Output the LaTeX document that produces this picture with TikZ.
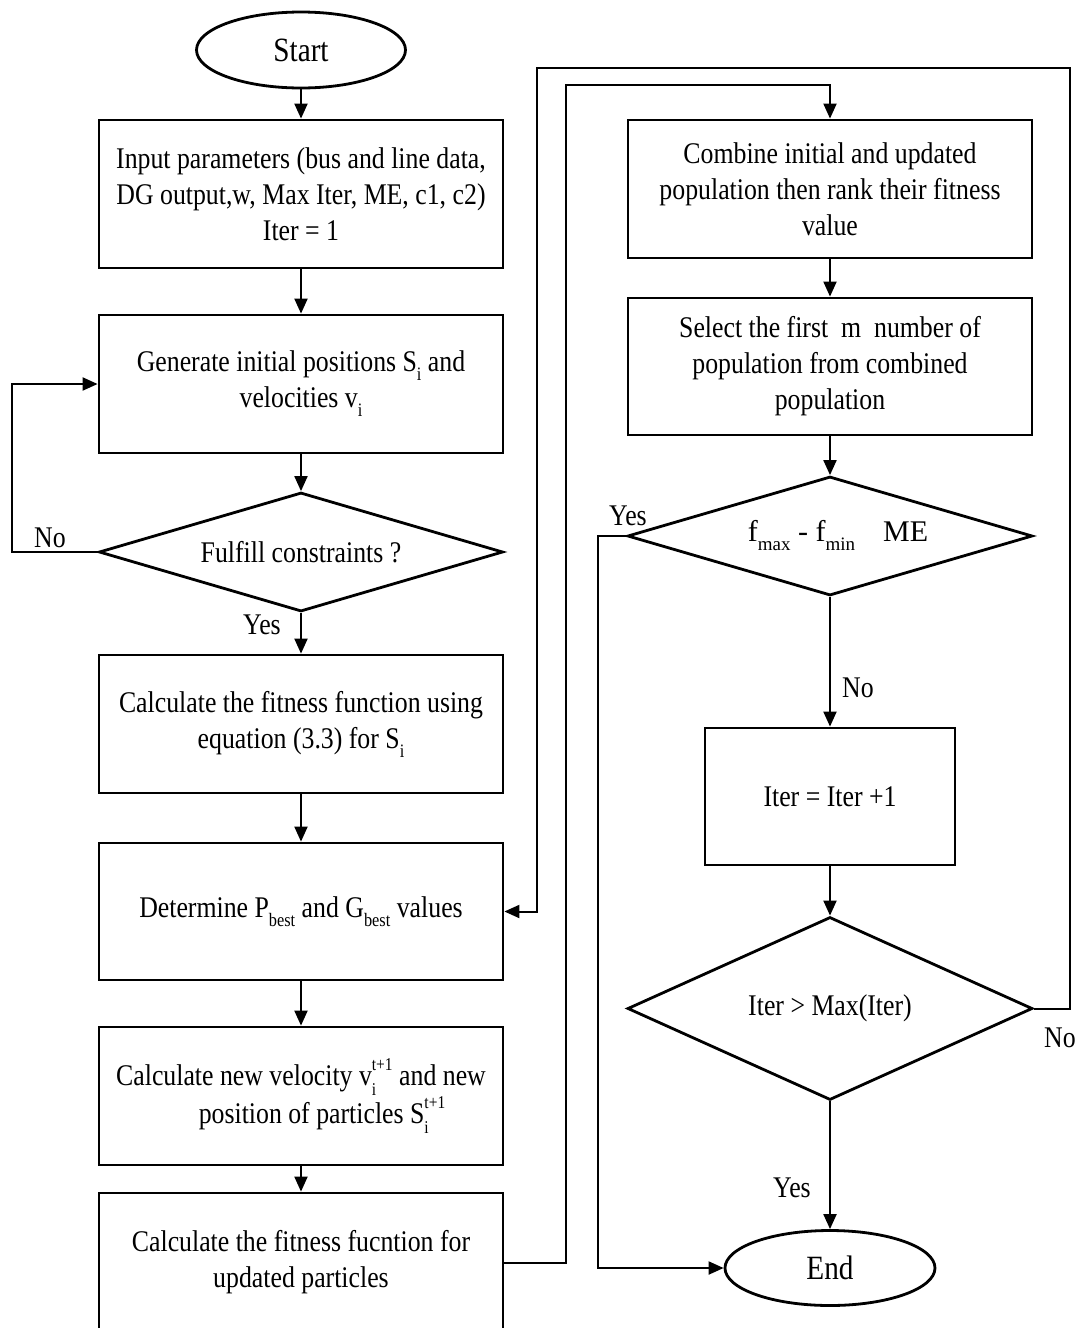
\documentclass[tikz,border=0pt]{standalone}
\usepackage{fontspec}
\setmainfont{Liberation Serif}[FakeStretch=0.86]
\newfontfamily\widefont{Liberation Serif}
\usetikzlibrary{shapes.geometric,arrows.meta}

% lowered index, and a raised/lowered index pair stacked on one base
\newcommand\lowidx[1]{\raisebox{-0.3em}{\fontsize{19}{19}\selectfont #1}}
\newcommand\twoidx[2]{\makebox[0pt][l]{\raisebox{-0.33em}{\fontsize{18}{18}\selectfont #2}}\raisebox{0.5em}{\fontsize{18}{18}\selectfont #1}}

\begin{document}
\begin{tikzpicture}[x=1pt,y=-1pt,
  font=\fontsize{30}{36}\selectfont,
  box/.style={draw, rectangle, line width=2.8pt, inner sep=0pt, align=center},
  decision/.style={draw, diamond, line width=2.8pt, inner sep=0pt, align=center},
  terminal/.style={draw, ellipse, line width=2.8pt, inner sep=0pt, font=\fontsize{34}{40}\selectfont},
  arr/.style={line width=2pt, -{Triangle[length=15pt,width=13pt]}},
  lbl/.style={inner sep=0pt}]
\clip (0,0) rectangle (1085,1328);

% left column
\node[terminal, minimum width=209pt, minimum height=76pt] (start) at (301,50) {Start};
\node[box, minimum width=404pt, minimum height=148pt] (inp) at (301,194)
  {Input parameters (bus and line data,\\DG output,w, Max Iter, ME, c1, c2)\\Iter = 1};
\node[box, minimum width=404pt, minimum height=138pt] (gen) at (301,384)
  {Generate initial positions S\lowidx{i} and\\velocities v\lowidx{i}};
\node[decision, aspect=3.4, minimum width=404pt, minimum height=119pt] (ful) at (301,552)
  {Fulfill constraints ?};
\node[box, minimum width=404pt, minimum height=138pt] (fit) at (301,724)
  {Calculate the fitness function using\\equation (3.3) for S\lowidx{i}};
\node[box, minimum width=404pt, minimum height=137pt] (best) at (301,911.5)
  {Determine P\lowidx{best} and G\lowidx{best} values};
\node[box, minimum width=404pt, minimum height=138pt] (newv) at (301,1096)
  {Calculate new velocity v\twoidx{t+1}{i} and new\\\hspace*{42pt}position of particles S\twoidx{t+1}{i}};
\node[box, minimum width=404pt, minimum height=139pt] (upd) at (301,1262.5)
  {Calculate the fitness fucntion for\\updated particles};

% right column
\node[box, minimum width=404pt, minimum height=138pt] (comb) at (830,189)
  {Combine initial and updated\\population then rank their fitness\\value};
\node[box, minimum width=404pt, minimum height=137pt] (sel) at (830,366.5)
  {Select the first \ m \ number of\\population from combined\\population};
\node[decision, aspect=3.4, minimum width=405pt, minimum height=119pt] (conv) at (830,536)
  {};
\node[lbl, font=\widefont\fontsize{30}{36}\selectfont] at (838,536)
  {f\lowidx{max} - f\lowidx{min}\hspace{28pt}ME};
\node[box, minimum width=250pt, minimum height=137pt] (iter) at (830,796.5)
  {Iter = Iter +1};
\node[decision, aspect=2.2, minimum width=405pt, minimum height=183pt] (maxd) at (830,1008.5)
  {Iter > Max(Iter)};
\node[terminal, minimum width=210pt, minimum height=75pt] (end) at (830,1268) {End};

% bend points of the loop connectors
\coordinate (noL) at (12,552);
\coordinate (upR) at (566,85);
\coordinate (outR) at (1070,68);
\coordinate (inL) at (537,68);
\coordinate (yesL) at (598,536);

% main flow
\draw[arr] (start) -- (inp);
\draw[arr] (inp) -- (gen);
\draw[arr] (gen) -- (ful);
\draw[arr] (ful.west) -- (noL) |- (gen.west);
\draw[arr] (ful) -- (fit);
\draw[arr] (fit) -- (best);
\draw[arr] (best) -- (newv);
\draw[arr] (newv) -- (upd);
\draw[arr] (upd.east) -| (upR) -| (comb.north);
\draw[arr] (comb) -- (sel);
\draw[arr] (sel) -- (conv);
\draw[arr] (conv) -- (iter);
\draw[arr] (iter) -- (maxd);
\draw[arr] (maxd) -- (end);
\draw[arr] (conv.west) -- (yesL) |- (end.west);
\draw[arr] (maxd.east) -| (outR) -- (inL) |- (best.east);

% branch labels
\node[lbl] at (262,625) {Yes};
\node[lbl] at (50,538) {No};
\node[lbl] at (628,516) {Yes};
\node[lbl] at (858,688) {No};
\node[lbl] at (792,1188) {Yes};
\node[lbl] at (1060,1038) {No};
\end{tikzpicture}
\end{document}
